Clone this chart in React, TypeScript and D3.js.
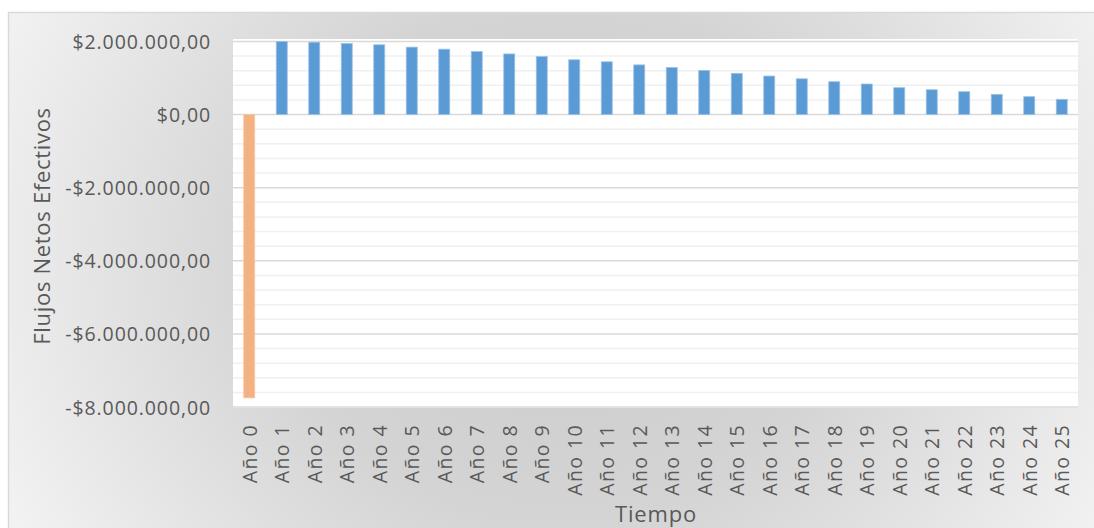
import React from "react";
import * as d3 from "d3";

const categories = ["Año 0","Año 1","Año 2","Año 3","Año 4","Año 5","Año 6","Año 7","Año 8","Año 9","Año 10","Año 11","Año 12","Año 13","Año 14","Año 15","Año 16","Año 17","Año 18","Año 19","Año 20","Año 21","Año 22","Año 23","Año 24","Año 25"];
const flujos = [-7750000, 2000000, 1980000, 1945000, 1910000, 1846000, 1790000, 1727000, 1660000, 1590000, 1500000, 1445000, 1360000, 1290000, 1210000, 1130000, 1055000, 980000, 900000, 837000, 736000, 680000, 627000, 554000, 490000, 418000];
const majorTicks = [2000000, 0, -2000000, -4000000, -6000000, -8000000];
const minorStep = 400000;

const W = 1094, H = 528;
const plot = { left: 233, right: 1078, top: 39, bottom: 407 };
const FONT = "'Open Sans', 'DejaVu Sans', sans-serif";

const fmt = (v: number) => {
  const abs = Math.abs(v);
  const s = abs.toFixed(0).replace(/\B(?=(\d{3})+(?!\d))/g, ".");
  return (v < 0 ? "-$" : "$") + s + ",00";
};

export default function App() {
  const x = d3.scaleBand<string>().domain(categories).range([plot.left, plot.right]).paddingInner(0).paddingOuter(0);
  const y = d3.scaleLinear().domain([-8000000, 2000000]).range([407, 41.5]);
  const minor = d3.range(-8000000, 2000001, minorStep).filter((v) => !majorTicks.includes(v));
  const bw = 11;
  const center = (c: string) => (x(c) as number) + x.bandwidth() / 2;

  return (
    <div style={{ position: "fixed", left: 0, top: 0, width: W, height: H, overflow: "hidden" }}>
      <svg width={W} height={H} style={{ display: "block" }}>
        <defs>
          <radialGradient id="bg" gradientUnits="userSpaceOnUse" cx={560} cy={260} r={640} gradientTransform="translate(560 260) scale(1 0.9) translate(-560 -260)">
            <stop offset="0" stopColor="#cbcbcb" />
            <stop offset="0.45" stopColor="#d4d4d4" />
            <stop offset="1" stopColor="#f4f4f4" />
          </radialGradient>
        </defs>
        <rect x={0} y={0} width={W} height={H} fill="#ffffff" />
        <rect x={8.5} y={12.5} width={W + 10} height={H + 10} fill="url(#bg)" stroke="#d9d9d9" strokeWidth={1.5} />
        <rect x={plot.left} y={plot.top} width={plot.right - plot.left} height={plot.bottom - plot.top + 1} fill="#ffffff" />
        {minor.map((v) => (
          <line key={"m" + v} x1={plot.left} x2={plot.right} y1={y(v)} y2={y(v)} stroke="#f0f0f0" strokeWidth={1.5} />
        ))}
        {majorTicks.map((v) => (
          <line key={"M" + v} x1={plot.left} x2={plot.right} y1={y(v)} y2={y(v)} stroke="#d9d9d9" strokeWidth={1.5} />
        ))}
        {flujos.map((v, i) => {
          const cx = center(categories[i]);
          const y0 = y(0), y1 = y(v);
          return (
            <rect key={i} x={cx - bw / 2} y={Math.min(y0, y1)} width={bw} height={Math.abs(y1 - y0)}
              fill={v < 0 ? "#f4b183" : "#5b9bd5"} stroke={v < 0 ? "#f8c9a6" : "#9cc2e5"} strokeWidth={0.8} />
          );
        })}
        {majorTicks.map((v) => (
          <text key={"t" + v} x={211} y={y(v)} dominantBaseline="central" textAnchor="end" fontFamily={FONT} fontSize={19.5} letterSpacing={0.9} fill="#595959">{fmt(v)}</text>
        ))}
        {categories.map((c) => {
          const cx = center(c);
          return (
            <text key={c} x={cx} y={424} textAnchor="end" dominantBaseline="central" transform={`rotate(-90 ${cx} 424)`} fontFamily={FONT} fontSize={19.5} letterSpacing={1.4} fill="#595959">{c}</text>
          );
        })}
        <text x={656} y={522} textAnchor="middle" fontFamily={FONT} fontSize={22} letterSpacing={0.8} fill="#595959">Tiempo</text>
        <text x={50} y={226} textAnchor="middle" transform="rotate(-90 50 226)" fontFamily={FONT} fontSize={22} letterSpacing={0.7} fill="#595959">Flujos Netos Efectivos</text>
      </svg>
    </div>
  );
}
